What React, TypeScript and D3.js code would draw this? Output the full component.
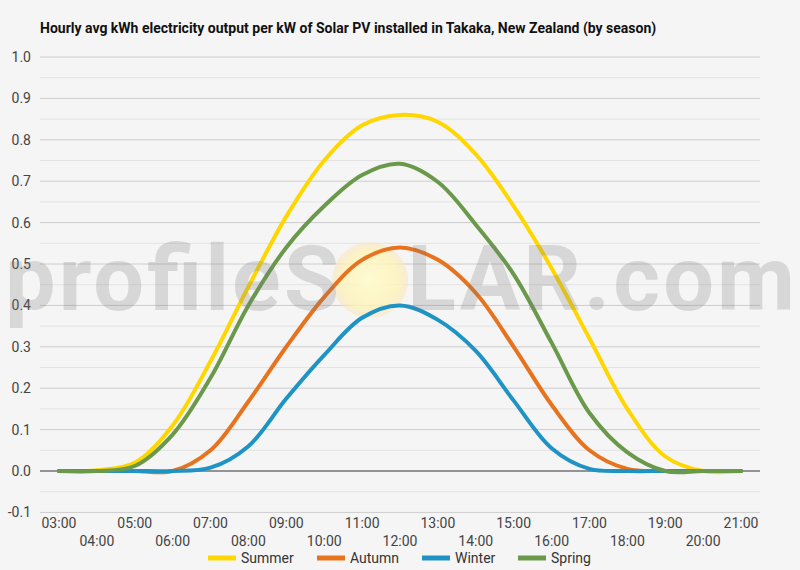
import React from "react";
import * as d3 from "d3";

const hours = ["03:00","04:00","05:00","06:00","07:00","08:00","09:00","10:00","11:00","12:00","13:00","14:00","15:00","16:00","17:00","18:00","19:00","20:00","21:00"];
const summer = [0, 0.002, 0.02, 0.11, 0.265, 0.445, 0.615, 0.75, 0.835, 0.86, 0.843, 0.765, 0.64, 0.49, 0.32, 0.15, 0.035, 0, 0];
const autumn = [0, 0, 0, 0, 0.05, 0.168, 0.30, 0.42, 0.51, 0.54, 0.51, 0.43, 0.30, 0.16, 0.05, 0.005, 0, 0, 0];
const winter = [0, 0, 0, 0, 0.008, 0.06, 0.175, 0.28, 0.37, 0.40, 0.365, 0.29, 0.17, 0.055, 0.005, 0, 0, 0, 0];
const spring = [0, 0, 0.012, 0.088, 0.225, 0.40, 0.54, 0.64, 0.715, 0.742, 0.698, 0.595, 0.475, 0.31, 0.14, 0.045, 0, 0, 0];
const seriesNames = ["Summer", "Autumn", "Winter", "Spring"];
const seriesValues = [summer, autumn, winter, spring];
const seriesColors = ["#FFD600", "#E8731E", "#1F93C4", "#6A994C"];
const yTicks = [-0.1, 0, 0.1, 0.2, 0.3, 0.4, 0.5, 0.6, 0.7, 0.8, 0.9, 1.0];
const yMinor = [-0.05, 0.05, 0.15, 0.25, 0.35, 0.45, 0.55, 0.65, 0.75, 0.85, 0.95];
const legendX = [208, 317, 422, 518];

const W = 800, H = 570;
const left = 40, right = 760, top = 57, bottom = 512.4;

export default function App() {
  const x = d3.scalePoint<string>().domain(hours).range([left, right]).padding(0.5);
  const y = d3.scaleLinear().domain([-0.1, 1.0]).range([bottom, top]);
  const line = d3.line<number>()
    .x((_, i) => x(hours[i]) as number)
    .y((v) => y(v))
    .curve(d3.curveCatmullRom);
  const font = "Roboto, sans-serif";
  return (
    <svg width={W} height={H} style={{ position: "absolute", left: 0, top: 0 }} fontFamily={font}>
      <defs>
        <radialGradient id="sun" cx="50%" cy="50%" r="50%">
          <stop offset="0%" stopColor="#fffbd0" stopOpacity={0.95} />
          <stop offset="75%" stopColor="#fdf3b8" stopOpacity={0.8} />
          <stop offset="100%" stopColor="#fbe3b8" stopOpacity={0.5} />
        </radialGradient>
      </defs>
      <rect x={0} y={0} width={W} height={H} fill="#f5f5f5" />
      <text x={40} y={33} fontSize={14} fontWeight="bold" fill="#111">
        Hourly avg kWh electricity output per kW of Solar PV installed in Takaka, New Zealand (by season)
      </text>
      {yMinor.map((t) => (
        <line key={"m" + t} x1={left} x2={right} y1={y(t)} y2={y(t)} stroke="#e3e3e3" strokeWidth={1} />
      ))}
      {yTicks.map((t) => (
        <line key={"g" + t} x1={left} x2={right} y1={y(t)} y2={y(t)} stroke={t === 0 ? "#333" : "#cccccc"} strokeWidth={1} />
      ))}
      {yTicks.map((t) => (
        <text key={"t" + t} x={31} y={y(t)} dy="0.35em" textAnchor="end" fontSize={14} fill="#444">
          {t.toFixed(1)}
        </text>
      ))}
      {hours.map((h, i) => (
        <text key={h} x={x(h) as number} y={i % 2 === 0 ? 523 : 541} dy="0.35em" textAnchor="middle" fontSize={14} fill="#444">
          {h}
        </text>
      ))}
      <circle cx={370} cy={280} r={38} fill="url(#sun)" />
      {seriesValues.map((vals, i) => (
        <path key={seriesNames[i]} d={line(vals) || ""} fill="none" stroke={seriesColors[i]} strokeWidth={4} strokeLinejoin="round" strokeLinecap="round" />
      ))}
      <text x={5} y={310} fontSize={90} fontWeight="bold" fill="#7a7a7a" fillOpacity={0.24} textLength={790} lengthAdjust="spacing">
        profileS<tspan fillOpacity={0}>O</tspan>LAR.com
      </text>
      {seriesNames.map((n, i) => (
        <g key={"l" + n}>
          <line x1={legendX[i]} x2={legendX[i] + 28} y1={558} y2={558} stroke={seriesColors[i]} strokeWidth={5} />
          <text x={legendX[i] + 33} y={558} dy="0.35em" fontSize={14} fill="#333">{n}</text>
        </g>
      ))}
    </svg>
  );
}
